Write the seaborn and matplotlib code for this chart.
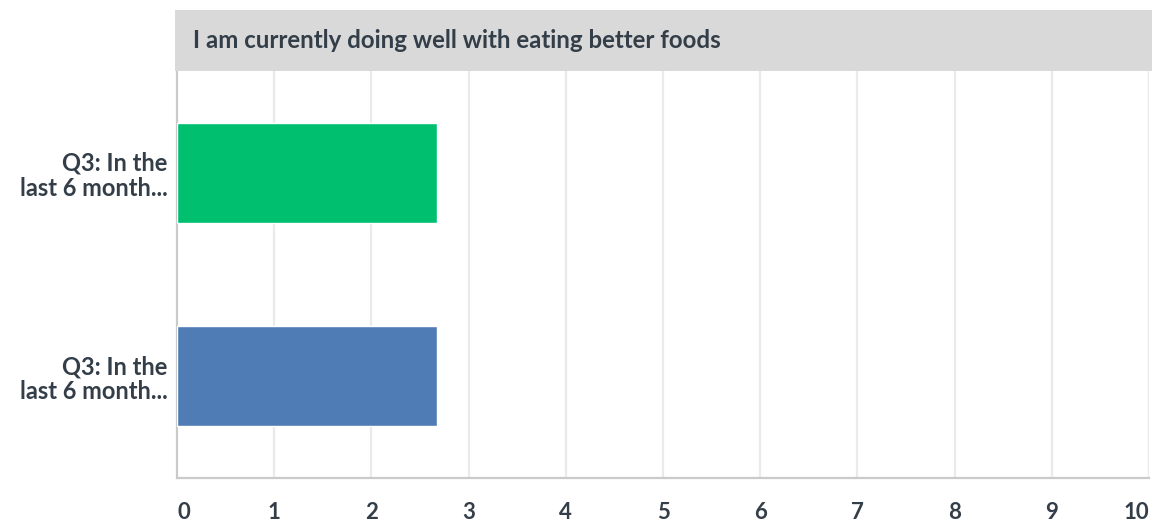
import matplotlib
matplotlib.use("Agg")
import matplotlib.pyplot as plt
from matplotlib.patches import Rectangle
import pandas as pd
import seaborn as sns

# Chart content
chart_title = "I am currently doing well with eating better foods"
row_labels = ["Q3: In the\nlast 6 month...", "Q3: In the\nlast 6 month..."]
row_values = [2.67, 2.67]
row_colors = ["#00BF6F", "#507CB6"]
x_ticks = [0, 1, 2, 3, 4, 5, 6, 7, 8, 9, 10]

TEXT = "#333E48"
GRID = "#E9EAEA"
SPINE = "#C9CACA"

sns.set_theme(style="white")
plt.rcParams["font.family"] = ["Lato", "DejaVu Sans"]

df = pd.DataFrame({"row": list(range(len(row_values))), "value": row_values})

fig = plt.figure(figsize=(11.52, 5.25), dpi=100)
W, H = 1152, 525
ax = fig.add_axes([177 / W, (H - 478) / H, 972 / W, 407 / H])

sns.barplot(data=df, x="value", y="row", orient="h", hue="row",
            palette=row_colors, legend=False, width=0.49, ax=ax,
            saturation=1, zorder=3)

ax.set_xlim(0, 10)
ax.set_ylim(1.5, -0.5)
ax.set_xticks(x_ticks)
ax.set_xticklabels([str(t) for t in x_ticks])
ax.set_yticks(df["row"])
ax.set_yticklabels(row_labels)
ax.set_xlabel("")
ax.set_ylabel("")

for t in x_ticks[1:]:
    ax.axvline(t, color=GRID, lw=1.6, zorder=1)

for s in ["top", "right"]:
    ax.spines[s].set_visible(False)
for s in ["left", "bottom"]:
    ax.spines[s].set_color(SPINE)
    ax.spines[s].set_linewidth(1.6)

ax.tick_params(axis="x", length=0, pad=17, labelsize=16, labelcolor=TEXT)
ax.tick_params(axis="y", length=0, pad=7, labelsize=17, labelcolor=TEXT)
for lab in ax.get_xticklabels():
    lab.set_fontweight("bold")
for lab in ax.get_yticklabels():
    lab.set_fontweight("bold")
    lab.set_horizontalalignment("right")
    lab.set_linespacing(1.1)
xl = ax.get_xticklabels()
xl[0].set_horizontalalignment("left")
xl[-1].set_horizontalalignment("right")

# Title banner above the plot area
fig.patches.append(Rectangle((175 / W, (H - 71) / H), (W - 175) / W, 61 / H,
                             transform=fig.transFigure, facecolor="#D9D9D9",
                             edgecolor="none", zorder=0))
fig.text(193 / W, (H - 40) / H, chart_title, ha="left", va="center",
         fontsize=17.3, fontweight="bold", color=TEXT)

fig.savefig("out.png", dpi=100, facecolor="white")
